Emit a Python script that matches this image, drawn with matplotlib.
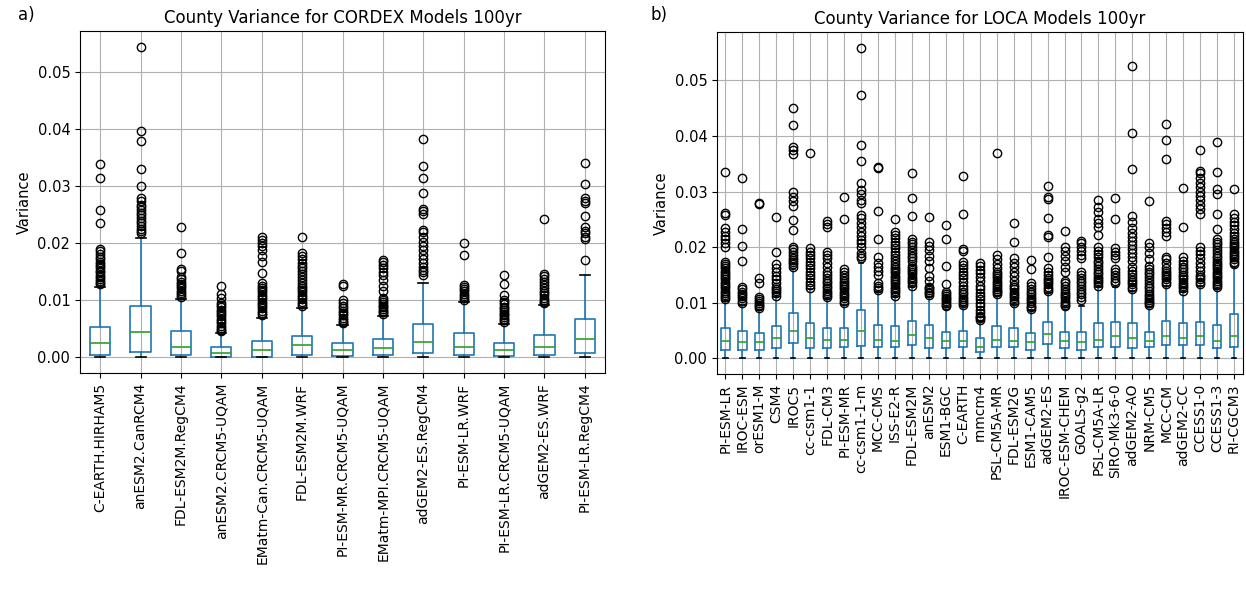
import matplotlib
matplotlib.use("Agg")
import matplotlib.pyplot as plt

# ---------------- CORDEX models (100yr county variance) ----------------
cordex_models = [
    "C-EARTH.HIRHAM5", "anESM2.CanRCM4", "FDL-ESM2M.RegCM4", "anESM2.CRCM5-UQAM",
    "EMatm-Can.CRCM5-UQAM", "FDL-ESM2M.WRF", "PI-ESM-MR.CRCM5-UQAM",
    "EMatm-MPI.CRCM5-UQAM", "adGEM2-ES.RegCM4", "PI-ESM-LR.WRF",
    "PI-ESM-LR.CRCM5-UQAM", "adGEM2-ES.WRF", "PI-ESM-LR.RegCM4",
]
cordex_q1 = [0.0005, 0.0010, 0.0005, 0.0001, 0.0001, 0.0005, 0.0002,
             0.00035, 0.0008, 0.0004, 0.0002, 0.0005, 0.0008]
cordex_med = [0.0025, 0.0045, 0.0019, 0.0008, 0.0013, 0.0022, 0.0013,
              0.0016, 0.0027, 0.0019, 0.0013, 0.0019, 0.0032]
cordex_q3 = [0.0054, 0.0091, 0.0046, 0.0019, 0.0029, 0.0038, 0.0025,
             0.0033, 0.0059, 0.0043, 0.0026, 0.0040, 0.0067]
cordex_lo = [0.0, 0.0, 0.0, 0.0, 0.0, 0.0, 0.0, 0.0, 0.0, 0.0, 0.0, 0.0, 0.0]
cordex_hi = [0.0124, 0.0209, 0.0103, 0.0043, 0.0070, 0.0087, 0.0057,
             0.0073, 0.0131, 0.0098, 0.0059, 0.0092, 0.0145]
cordex_fliers = [
    [0.0128, 0.0131, 0.0134, 0.0137, 0.0141, 0.0145, 0.0149, 0.0152, 0.0156, 0.0160,
     0.0164, 0.0168, 0.0172, 0.0176, 0.0181, 0.0186, 0.0190, 0.0236, 0.0259, 0.0314, 0.0339],
    [0.0218, 0.0222, 0.0226, 0.0231, 0.0236, 0.0240, 0.0244, 0.0249, 0.0253, 0.0258,
     0.0263, 0.0268, 0.0274, 0.0279, 0.0300, 0.0330, 0.0380, 0.0397, 0.0545],
    [0.0106, 0.0110, 0.0113, 0.0117, 0.0121, 0.0125, 0.0129, 0.0133, 0.0137, 0.0141,
     0.0151, 0.0155, 0.0183, 0.0228],
    [0.0046, 0.0049, 0.0052, 0.0056, 0.0060, 0.0064, 0.0068, 0.0072, 0.0076, 0.0080,
     0.0084, 0.0088, 0.0092, 0.0096, 0.0104, 0.0112, 0.0126],
    [0.0074, 0.0078, 0.0082, 0.0086, 0.0090, 0.0094, 0.0098, 0.0102, 0.0106, 0.0110,
     0.0114, 0.0118, 0.0122, 0.0126, 0.0131, 0.0148, 0.0168, 0.0177, 0.0188, 0.0196,
     0.0201, 0.0206, 0.0211],
    [0.0090, 0.0094, 0.0098, 0.0102, 0.0106, 0.0110, 0.0114, 0.0118, 0.0122, 0.0126,
     0.0131, 0.0136, 0.0141, 0.0146, 0.0151, 0.0156, 0.0161, 0.0166, 0.0172, 0.0178,
     0.0183, 0.0211],
    [0.0060, 0.0063, 0.0066, 0.0070, 0.0074, 0.0078, 0.0082, 0.0086, 0.0090, 0.0095,
     0.0100, 0.0125, 0.0129],
    [0.0076, 0.0079, 0.0082, 0.0085, 0.0088, 0.0091, 0.0094, 0.0097, 0.0100, 0.0104,
     0.0116, 0.0126, 0.0136, 0.0144, 0.0150, 0.0156, 0.0162, 0.0167, 0.0171],
    [0.0145, 0.0149, 0.0153, 0.0158, 0.0165, 0.0172, 0.0180, 0.0188, 0.0196, 0.0203,
     0.0212, 0.0220, 0.0224, 0.0252, 0.0257, 0.0260, 0.0289, 0.0314, 0.0335, 0.0383],
    [0.0101, 0.0104, 0.0108, 0.0112, 0.0116, 0.0120, 0.0124, 0.0127, 0.0180, 0.0201],
    [0.0062, 0.0065, 0.0068, 0.0071, 0.0074, 0.0077, 0.0080, 0.0083, 0.0086, 0.0089,
     0.0093, 0.0097, 0.0101, 0.0109, 0.0128, 0.0145],
    [0.0095, 0.0098, 0.0101, 0.0105, 0.0109, 0.0113, 0.0117, 0.0122, 0.0127, 0.0132,
     0.0137, 0.0142, 0.0147, 0.0242],
    [0.0170, 0.0207, 0.0212, 0.0218, 0.0222, 0.0228, 0.0248, 0.0270, 0.0275, 0.0280,
     0.0304, 0.0340],
]

# ---------------- LOCA models (100yr county variance) ----------------
loca_models = [
    "PI-ESM-LR", "IROC-ESM", "orESM1-M", "CSM4", "IROC5", "cc-csm1-1", "FDL-CM3",
    "PI-ESM-MR", "cc-csm1-1-m", "MCC-CMS", "ISS-E2-R", "FDL-ESM2M", "anESM2",
    "ESM1-BGC", "C-EARTH", "rnmcm4", "PSL-CM5A-MR", "FDL-ESM2G", "ESM1-CAM5",
    "adGEM2-ES", "IROC-ESM-CHEM", "GOALS-g2", "PSL-CM5A-LR", "SIRO-Mk3-6-0",
    "adGEM2-AO", "NRM-CM5", "MCC-CM", "adGEM2-CC", "CCESS1-0", "CCESS1-3", "RI-CGCM3",
]
loca_q1 = [0.0016, 0.0016, 0.0016, 0.0019, 0.0027, 0.0019, 0.0018, 0.0021,
           0.0022, 0.0020, 0.0020, 0.0025, 0.0019, 0.0018, 0.0020, 0.0012,
           0.0020, 0.0020, 0.0015, 0.0026, 0.0018, 0.0015, 0.0020, 0.0020,
           0.0018, 0.0020, 0.0024, 0.0024, 0.0024, 0.0018, 0.0021]
loca_med = [0.0031, 0.0029, 0.0029, 0.0037, 0.0049, 0.0037, 0.0034, 0.0034,
            0.0049, 0.0034, 0.0032, 0.0043, 0.0037, 0.0032, 0.0032, 0.0020,
            0.0034, 0.0032, 0.0029, 0.0044, 0.0031, 0.0029, 0.0034, 0.0040,
            0.0037, 0.0031, 0.0040, 0.0037, 0.0040, 0.0032, 0.0041]
loca_q3 = [0.0054, 0.0049, 0.0046, 0.0058, 0.0082, 0.0063, 0.0054, 0.0054,
           0.0088, 0.0060, 0.0058, 0.0068, 0.0060, 0.0047, 0.0049, 0.0037,
           0.0059, 0.0054, 0.0046, 0.0066, 0.0048, 0.0048, 0.0063, 0.0066,
           0.0063, 0.0048, 0.0068, 0.0063, 0.0066, 0.0060, 0.0080]
loca_lo = [0.0, 0.0, 0.0, 0.0, 0.0, 0.0, 0.0, 0.0, 0.0, 0.0, 0.0, 0.0, 0.0, 0.0,
           0.0, 0.0, 0.0, 0.0, 0.0, 0.0, 0.0, 0.0, 0.0, 0.0, 0.0, 0.0, 0.0, 0.0,
           0.0, 0.0, 0.0]
loca_hi = [0.0103, 0.0097, 0.0088, 0.0110, 0.0160, 0.0124, 0.0106, 0.0097,
           0.0172, 0.0120, 0.0110, 0.0128, 0.0111, 0.0092, 0.0095, 0.0067,
           0.0113, 0.0098, 0.0087, 0.0118, 0.0092, 0.0095, 0.0128, 0.0128,
           0.0122, 0.0093, 0.0130, 0.0120, 0.0130, 0.0125, 0.0165]
loca_fliers = [
    [0.0106, 0.0110, 0.0114, 0.0118, 0.0122, 0.0126, 0.0130, 0.0134, 0.0138, 0.0142,
     0.0146, 0.0150, 0.0154, 0.0158, 0.0162, 0.0166, 0.0170, 0.0174, 0.0201, 0.0208,
     0.0214, 0.0221, 0.0228, 0.0235, 0.0258, 0.0262, 0.0335],
    [0.0100, 0.0104, 0.0108, 0.0112, 0.0116, 0.0120, 0.0124, 0.0129, 0.0175, 0.0203,
     0.0232, 0.0325],
    [0.0091, 0.0094, 0.0097, 0.0100, 0.0103, 0.0107, 0.0110, 0.0135, 0.0144, 0.0277,
     0.0280],
    [0.0113, 0.0117, 0.0121, 0.0125, 0.0129, 0.0135, 0.0142, 0.0149, 0.0156, 0.0163,
     0.0170, 0.0192, 0.0254],
    [0.0165, 0.0169, 0.0173, 0.0177, 0.0181, 0.0186, 0.0191, 0.0196, 0.0201, 0.0231,
     0.0249, 0.0275, 0.0283, 0.0291, 0.0299, 0.0368, 0.0375, 0.0381, 0.0420, 0.0450],
    [0.0127, 0.0132, 0.0138, 0.0144, 0.0150, 0.0156, 0.0162, 0.0168, 0.0174, 0.0180,
     0.0186, 0.0192, 0.0198, 0.0370],
    [0.0110, 0.0114, 0.0118, 0.0122, 0.0126, 0.0130, 0.0135, 0.0140, 0.0145, 0.0150,
     0.0155, 0.0165, 0.0172, 0.0180, 0.0186, 0.0192, 0.0237, 0.0242, 0.0248],
    [0.0100, 0.0104, 0.0108, 0.0112, 0.0116, 0.0120, 0.0124, 0.0128, 0.0132, 0.0136,
     0.0140, 0.0145, 0.0150, 0.0155, 0.0160, 0.0251, 0.0291],
    [0.0180, 0.0185, 0.0190, 0.0200, 0.0207, 0.0213, 0.0220, 0.0228, 0.0236, 0.0244,
     0.0252, 0.0258, 0.0280, 0.0285, 0.0295, 0.0303, 0.0315, 0.0355, 0.0383, 0.0474,
     0.0559],
    [0.0123, 0.0127, 0.0131, 0.0135, 0.0150, 0.0158, 0.0165, 0.0172, 0.0182, 0.0214,
     0.0266, 0.0342, 0.0345],
    [0.0113, 0.0117, 0.0121, 0.0125, 0.0129, 0.0133, 0.0137, 0.0141, 0.0145, 0.0149,
     0.0153, 0.0157, 0.0161, 0.0165, 0.0170, 0.0175, 0.0180, 0.0186, 0.0192, 0.0198,
     0.0204, 0.0210, 0.0216, 0.0222, 0.0228, 0.0251],
    [0.0131, 0.0135, 0.0139, 0.0143, 0.0147, 0.0151, 0.0155, 0.0159, 0.0163, 0.0167,
     0.0175, 0.0180, 0.0185, 0.0190, 0.0195, 0.0200, 0.0205, 0.0210, 0.0215, 0.0257,
     0.0288, 0.0334],
    [0.0114, 0.0117, 0.0120, 0.0123, 0.0126, 0.0129, 0.0140, 0.0148, 0.0163, 0.0175,
     0.0185, 0.0195, 0.0202, 0.0210, 0.0254],
    [0.0094, 0.0097, 0.0100, 0.0103, 0.0106, 0.0109, 0.0112, 0.0116, 0.0120, 0.0134,
     0.0167, 0.0214, 0.0240],
    [0.0097, 0.0100, 0.0103, 0.0107, 0.0111, 0.0115, 0.0120, 0.0125, 0.0131, 0.0137,
     0.0144, 0.0150, 0.0156, 0.0162, 0.0168, 0.0174, 0.0193, 0.0197, 0.0259, 0.0328],
    [0.0070, 0.0072, 0.0074, 0.0077, 0.0082, 0.0088, 0.0094, 0.0100, 0.0106, 0.0112,
     0.0118, 0.0124, 0.0130, 0.0140, 0.0147, 0.0153, 0.0159, 0.0166, 0.0172],
    [0.0116, 0.0119, 0.0122, 0.0125, 0.0128, 0.0132, 0.0136, 0.0140, 0.0144, 0.0148,
     0.0152, 0.0156, 0.0162, 0.0170, 0.0178, 0.0186, 0.0370],
    [0.0100, 0.0104, 0.0108, 0.0112, 0.0116, 0.0120, 0.0124, 0.0128, 0.0132, 0.0140,
     0.0148, 0.0156, 0.0164, 0.0172, 0.0180, 0.0210, 0.0243],
    [0.0089, 0.0092, 0.0095, 0.0099, 0.0103, 0.0107, 0.0111, 0.0115, 0.0120, 0.0125,
     0.0130, 0.0136, 0.0160, 0.0177],
    [0.0121, 0.0125, 0.0129, 0.0133, 0.0137, 0.0141, 0.0145, 0.0150, 0.0156, 0.0163,
     0.0183, 0.0219, 0.0222, 0.0253, 0.0287, 0.0290, 0.0310],
    [0.0094, 0.0097, 0.0100, 0.0104, 0.0108, 0.0112, 0.0116, 0.0120, 0.0125, 0.0130,
     0.0135, 0.0140, 0.0155, 0.0165, 0.0175, 0.0185, 0.0193, 0.0200, 0.0230],
    [0.0105, 0.0110, 0.0115, 0.0120, 0.0125, 0.0130, 0.0135, 0.0140, 0.0145, 0.0150,
     0.0155, 0.0180, 0.0186, 0.0193, 0.0200, 0.0207, 0.0212],
    [0.0131, 0.0135, 0.0139, 0.0143, 0.0147, 0.0151, 0.0156, 0.0161, 0.0166, 0.0171,
     0.0176, 0.0182, 0.0188, 0.0194, 0.0200, 0.0222, 0.0236, 0.0243, 0.0251, 0.0263,
     0.0272, 0.0285],
    [0.0135, 0.0140, 0.0145, 0.0150, 0.0155, 0.0160, 0.0180, 0.0186, 0.0192, 0.0198,
     0.0250, 0.0289],
    [0.0125, 0.0129, 0.0133, 0.0137, 0.0141, 0.0146, 0.0152, 0.0158, 0.0164, 0.0176,
     0.0183, 0.0190, 0.0197, 0.0204, 0.0211, 0.0218, 0.0225, 0.0235, 0.0245, 0.0256,
     0.0340, 0.0405, 0.0525],
    [0.0096, 0.0099, 0.0102, 0.0105, 0.0108, 0.0112, 0.0116, 0.0121, 0.0126, 0.0131,
     0.0136, 0.0141, 0.0146, 0.0151, 0.0156, 0.0161, 0.0167, 0.0178, 0.0190, 0.0200,
     0.0208, 0.0283],
    [0.0134, 0.0138, 0.0142, 0.0146, 0.0150, 0.0154, 0.0158, 0.0162, 0.0172, 0.0178,
     0.0182, 0.0220, 0.0227, 0.0234, 0.0241, 0.0248, 0.0358, 0.0392, 0.0421],
    [0.0122, 0.0126, 0.0130, 0.0134, 0.0138, 0.0142, 0.0146, 0.0150, 0.0155, 0.0160,
     0.0165, 0.0170, 0.0176, 0.0182, 0.0237, 0.0307],
    [0.0134, 0.0138, 0.0142, 0.0146, 0.0150, 0.0158, 0.0165, 0.0172, 0.0180, 0.0187,
     0.0194, 0.0200, 0.0260, 0.0268, 0.0276, 0.0284, 0.0292, 0.0300, 0.0308, 0.0316,
     0.0324, 0.0333, 0.0337, 0.0375],
    [0.0128, 0.0132, 0.0136, 0.0140, 0.0144, 0.0148, 0.0152, 0.0156, 0.0160, 0.0164,
     0.0168, 0.0172, 0.0176, 0.0180, 0.0185, 0.0190, 0.0195, 0.0200, 0.0205, 0.0210,
     0.0215, 0.0233, 0.0260, 0.0295, 0.0305, 0.0335, 0.0390],
    [0.0170, 0.0174, 0.0178, 0.0182, 0.0186, 0.0190, 0.0194, 0.0198, 0.0202, 0.0206,
     0.0210, 0.0215, 0.0220, 0.0226, 0.0232, 0.0240, 0.0246, 0.0252, 0.0260, 0.0305],
]

BLUE = "#1f77b4"
GREEN = "#2ca02c"


def draw_panel(ax, names, q1, med, q3, lo, hi, fliers, title):
    stats = []
    for i, name in enumerate(names):
        stats.append(dict(label=name, q1=q1[i], med=med[i], q3=q3[i],
                          whislo=lo[i], whishi=hi[i], fliers=fliers[i]))
    ax.bxp(stats, positions=list(range(1, len(names) + 1)),
           boxprops=dict(color=BLUE, linewidth=1.2),
           whiskerprops=dict(color=BLUE, linewidth=1.2),
           medianprops=dict(color=GREEN, linewidth=1.2),
           capprops=dict(color="black", linewidth=1.2),
           flierprops=dict(marker="o", markerfacecolor="none",
                           markeredgecolor="black", markersize=6))
    ax.grid(True, color="#b0b0b0", linewidth=0.8)
    ax.set_axisbelow(True)
    ax.set_title(title, fontsize=12)
    ax.set_ylabel("Variance", fontsize=10.5)
    ax.tick_params(axis="x", labelrotation=90, labelsize=10)
    ax.tick_params(axis="y", labelsize=10.5)
    ax.set_yticks([0.0, 0.01, 0.02, 0.03, 0.04, 0.05])
    ax.set_yticklabels(["0.00", "0.01", "0.02", "0.03", "0.04", "0.05"])


W, H = 1246, 597
fig = plt.figure(figsize=(W / 100, H / 100), dpi=100)
ax1 = fig.add_axes([80 / W, 1 - 373 / H, (605 - 80) / W, (373 - 31) / H])
ax2 = fig.add_axes([717 / W, 1 - 374 / H, (1242.5 - 717) / W, (374 - 32) / H])

draw_panel(ax1, cordex_models, cordex_q1, cordex_med, cordex_q3, cordex_lo,
           cordex_hi, cordex_fliers, "County Variance for CORDEX Models 100yr")
draw_panel(ax2, loca_models, loca_q1, loca_med, loca_q3, loca_lo,
           loca_hi, loca_fliers, "County Variance for LOCA Models 100yr")

fig.text(18 / W, 1 - 15 / H, "a)", fontsize=12, ha="left", va="center")
fig.text(650 / W, 1 - 15 / H, "b)", fontsize=12, ha="left", va="center")

fig.savefig("out.png", dpi=100)
